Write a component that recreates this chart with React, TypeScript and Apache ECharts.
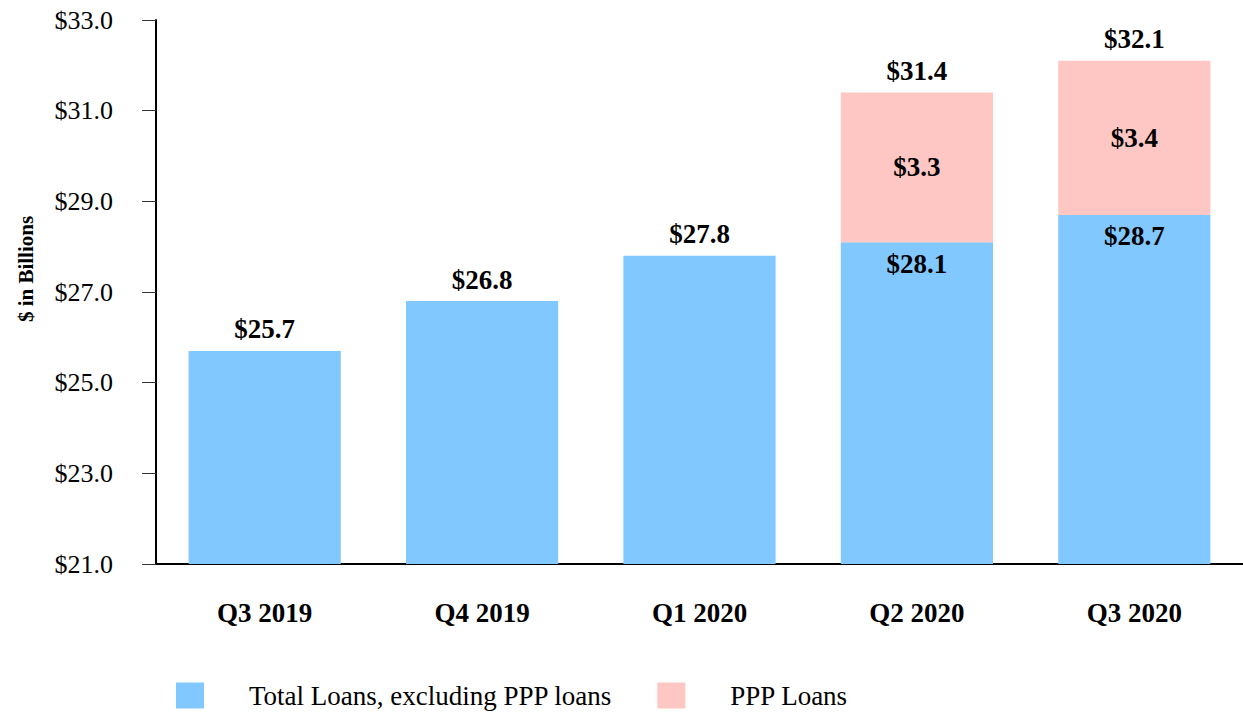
import React, { useEffect, useRef } from "react";
import * as echarts from "echarts";

const categories = ["Q3 2019", "Q4 2019", "Q1 2020", "Q2 2020", "Q3 2020"];
const loansExPPP = [25.7, 26.8, 27.8, 28.1, 28.7];
const pppLoans: (number | null)[] = [null, null, null, 3.3, 3.4];
const totals: (number | null)[] = [null, null, null, 31.4, 32.1];
const yTicks = { min: 21, max: 33, interval: 2 };
const yAxisTitle = "$ in Billions";

const FONT = "'Liberation Serif', 'Times New Roman', serif";
const BLUE = "#80C8FF";
const PINK = "#FFC7C3";

export default function App() {
  const ref = useRef<HTMLDivElement>(null);
  useEffect(() => {
    if (!ref.current) return;
    const chart = echarts.init(ref.current, null, { renderer: "svg" });
    const labelStyle = {
      fontFamily: FONT,
      fontWeight: "bold" as const,
      fontSize: 27,
      color: "#000",
    };
    const fmt = (p: any) => "$" + Number(p.value).toFixed(1);
    chart.setOption({
      animation: false,
      textStyle: { fontFamily: FONT },
      grid: { left: 156, right: 0, top: 20, bottom: 149, containLabel: false },
      graphic: [
        {
          type: "text",
          x: 26,
          y: 269,
          rotation: Math.PI / 2,
          style: {
            text: yAxisTitle,
            font: "bold 21px " + FONT,
            fill: "#000",
            textAlign: "center",
            textVerticalAlign: "middle",
          },
        },
      ],
      legend: {
        data: ["Total Loans, excluding PPP loans", "PPP Loans"],
        left: 171,
        top: 677,
        icon: "rect",
        itemWidth: 28,
        itemHeight: 26,
        itemGap: 45,
        selectedMode: false,
        textStyle: {
          fontFamily: FONT,
          fontSize: 27,
          color: "#000",
          padding: [0, 0, 0, 40],
        },
      },
      xAxis: {
        type: "category",
        data: categories,
        axisLine: { lineStyle: { color: "#000", width: 2 } },
        axisTick: {
          alignWithLabel: true,
          length: 13,
          lineStyle: { color: "#333", width: 1 },
        },
        axisLabel: {
          margin: 35,
          fontFamily: FONT,
          fontWeight: "bold",
          fontSize: 27,
          color: "#000",
        },
      },
      yAxis: {
        type: "value",
        min: yTicks.min,
        max: yTicks.max,
        interval: yTicks.interval,
        axisLine: { show: true, lineStyle: { color: "#000", width: 2 } },
        axisTick: { show: true, length: 14, lineStyle: { color: "#333", width: 1 } },
        splitLine: { show: false },
        axisLabel: {
          margin: 43,
          fontFamily: FONT,
          fontSize: 26,
          color: "#000",
          formatter: (v: number) => "$" + v.toFixed(1),
        },
      },
      series: [
        {
          name: "Total Loans, excluding PPP loans",
          type: "bar",
          stack: "loans",
          barWidth: "70%",
          itemStyle: { color: BLUE },
          data: loansExPPP.map((v, i) => ({
            value: v,
            label: {
              show: true,
              position: pppLoans[i] == null ? "top" : "insideTop",
              distance: 8,
              ...labelStyle,
              formatter: fmt,
            },
          })),
        },
        {
          name: "PPP Loans",
          type: "bar",
          stack: "loans",
          barWidth: "70%",
          itemStyle: { color: PINK },
          label: {
            show: true,
            position: "inside",
            ...labelStyle,
            formatter: fmt,
          },
          data: pppLoans.map((v) => (v == null ? "-" : v)),
        },
        {
          name: "Total",
          type: "bar",
          barWidth: "70%",
          barGap: "-100%",
          silent: true,
          itemStyle: { color: "rgba(0,0,0,0)" },
          label: {
            show: true,
            position: "top",
            distance: 8,
            ...labelStyle,
            formatter: fmt,
          },
          data: totals.map((v) => (v == null ? "-" : v)),
        },
      ],
    });
    return () => chart.dispose();
  }, []);
  return (
    <div
      ref={ref}
      style={{ position: "absolute", left: 0, top: 0, width: 1243, height: 713 }}
    />
  );
}
